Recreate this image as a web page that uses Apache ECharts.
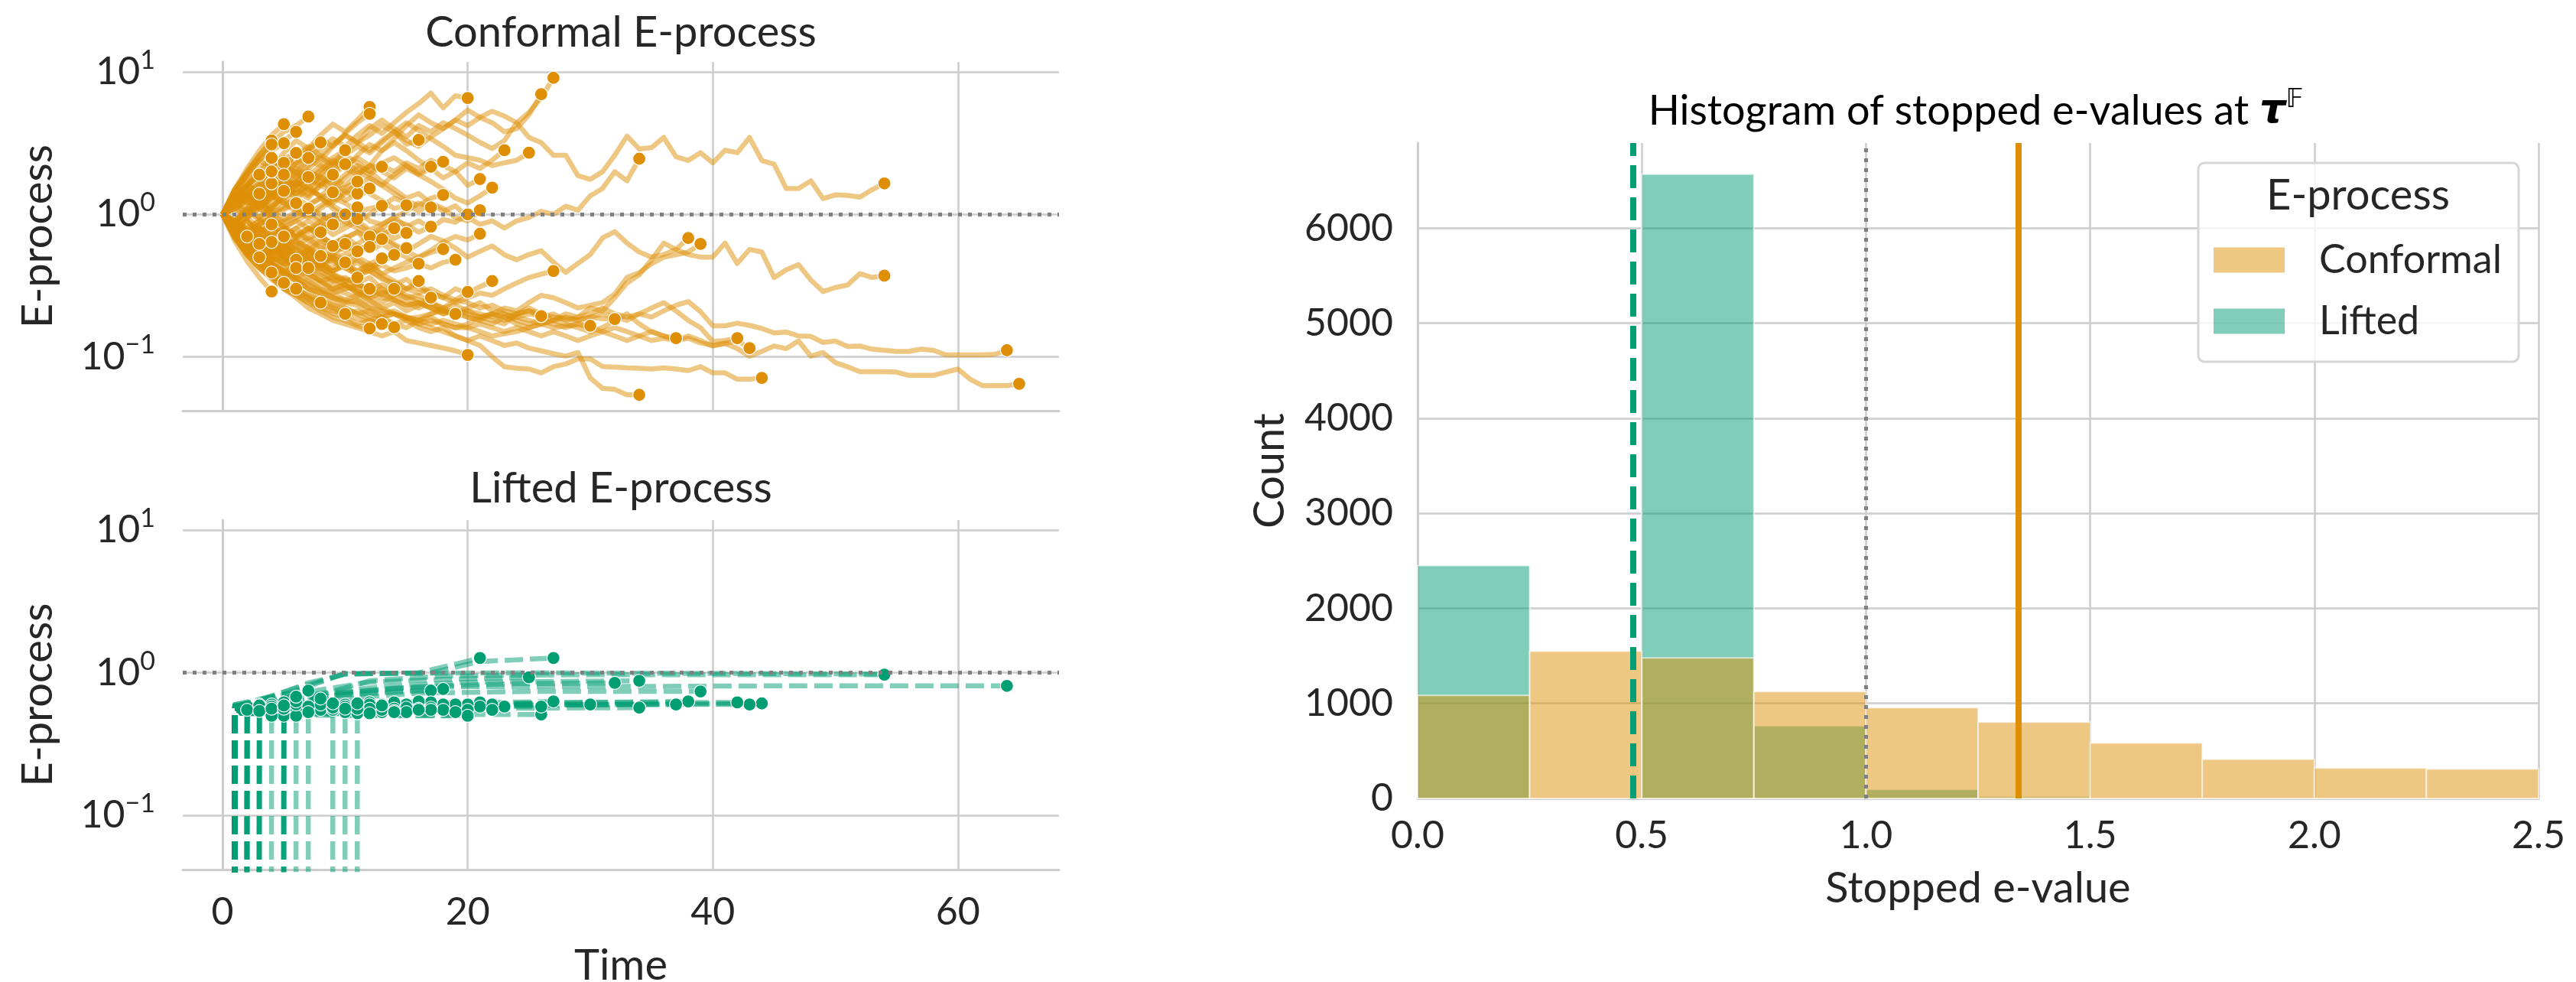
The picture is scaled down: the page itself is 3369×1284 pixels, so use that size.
<!DOCTYPE html>
<html>
<head>
<meta charset="utf-8">
<script src="https://cdn.jsdelivr.net/npm/echarts@6/dist/echarts.min.js"></script>
<style>
  html, body { margin: 0; padding: 0; background: #ffffff; }
  #chart { width: 3369px; height: 1284px; }
</style>
</head>
<body>
<div id="chart"></div>
<script>
// Conformal e-process trajectories: value at t = 0, 1, 2, ... until each run is stopped.
const conformalPaths = [
  [1,0.82,0.68,0.6,0.5,0.45,0.38,0.34,0.3,0.28,0.25,0.24,0.22,0.21,0.2,0.19,0.18,0.19,0.17,0.16,0.16,0.17,0.16,0.15,0.16,0.15,0.14,0.15,0.14,0.13,0.14,0.15,0.14,0.13,0.14,0.13,0.135,0.13,0.14,0.13,0.119,0.124,0.114,0.101,0.109,0.119,0.114,0.129,0.101,0.107,0.091,0.085,0.0785,0.0785,0.0785,0.078,0.074,0.074,0.074,0.078,0.082,0.0695,0.0627,0.0627,0.0627,0.0645],
  [1,0.75,0.62,0.55,0.48,0.5,0.44,0.4,0.37,0.33,0.3,0.31,0.28,0.26,0.25,0.23,0.24,0.22,0.2,0.21,0.2,0.19,0.2,0.18,0.19,0.18,0.17,0.18,0.19,0.18,0.19,0.2,0.19,0.18,0.2,0.19,0.21,0.23,0.244,0.207,0.165,0.165,0.172,0.166,0.158,0.147,0.149,0.14,0.139,0.126,0.129,0.118,0.119,0.113,0.111,0.109,0.109,0.113,0.111,0.103,0.103,0.103,0.103,0.104,0.111],
  [1,1.3,1.5,1.4,1.7,2.0,1.8,2.1,2.5,2.2,2.6,3.0,2.7,3.2,3.8,3.3,3.0,3.5,4.0,4.6,4.2,4.8,5.3,4.9,4.4,3.47,3.19,2.6,2.6,1.87,1.76,1.99,2.6,3.54,2.88,2.94,3.47,2.54,2.39,2.71,2.3,2.82,2.71,3.47,2.39,2.25,1.52,1.52,1.72,1.29,1.37,1.36,1.32,1.49,1.65],
  [1,0.8,0.9,0.75,0.85,0.7,0.8,0.65,0.72,0.6,0.68,0.75,0.62,0.7,0.6,0.55,0.62,0.7,0.65,0.58,0.5,0.55,0.6,0.52,0.48,0.522,0.555,0.461,0.391,0.452,0.522,0.682,0.756,0.628,0.544,0.501,0.522,0.567,0.522,0.501,0.501,0.628,0.452,0.567,0.544,0.36,0.408,0.443,0.346,0.287,0.306,0.319,0.383,0.36,0.371],
  [1,0.7,0.55,0.45,0.38,0.32,0.3,0.26,0.24,0.22,0.2,0.21,0.19,0.18,0.17,0.18,0.16,0.15,0.16,0.14,0.13,0.12,0.1,0.085,0.083,0.082,0.077,0.0853,0.089,0.0966,0.0966,0.0853,0.0845,0.0836,0.083,0.082,0.0836,0.082,0.08,0.0853,0.077,0.077,0.0695,0.0695,0.071],
  [1,0.78,0.6,0.52,0.46,0.4,0.42,0.36,0.33,0.3,0.28,0.26,0.24,0.22,0.2,0.19,0.17,0.16,0.15,0.14,0.13,0.14,0.13,0.12,0.125,0.115,0.11,0.105,0.101,0.107,0.071,0.06,0.059,0.054,0.054],
  [1,0.85,0.7,0.6,0.55,0.5,0.44,0.4,0.42,0.37,0.34,0.32,0.3,0.28,0.3,0.27,0.25,0.24,0.22,0.23,0.21,0.2,0.19,0.2,0.18,0.17,0.18,0.17,0.16,0.17,0.16,0.15,0.16,0.15,0.14,0.15,0.14,0.13,0.135,0.125,0.12,0.124,0.13,0.115],
  [1,0.9,0.75,0.8,0.7,0.62,0.65,0.58,0.5,0.46,0.42,0.38,0.4,0.35,0.33,0.3,0.28,0.3,0.27,0.25,0.24,0.22,0.23,0.21,0.2,0.21,0.19,0.2,0.18,0.19,0.2,0.22,0.2,0.19,0.2,0.22,0.24,0.21,0.18,0.16,0.128,0.13,0.135],
  [1,0.7,0.6,0.5,0.42,0.38,0.35,0.3,0.28,0.26,0.24,0.23,0.2,0.19,0.2,0.18,0.17,0.18,0.17,0.16,0.17,0.19,0.2,0.22,0.21,0.24,0.27,0.26,0.24,0.22,0.23,0.24,0.276,0.36,0.39,0.45,0.5,0.52,0.544,0.62],
  [1,0.75,0.62,0.55,0.47,0.42,0.45,0.38,0.34,0.36,0.32,0.29,0.27,0.3,0.26,0.24,0.22,0.24,0.21,0.2,0.19,0.18,0.2,0.19,0.17,0.16,0.17,0.18,0.2,0.19,0.22,0.21,0.26,0.33,0.376,0.48,0.628,0.567,0.682],
  [1,0.8,0.65,0.7,0.58,0.5,0.45,0.48,0.42,0.38,0.35,0.33,0.36,0.3,0.28,0.26,0.27,0.24,0.22,0.2,0.21,0.19,0.18,0.17,0.2,0.22,0.2,0.18,0.17,0.16,0.15,0.16,0.18,0.2,0.17,0.15,0.14,0.135],
  [1,1.2,1.4,1.25,1.5,1.8,1.6,2.0,1.8,1.6,1.9,2.2,2.0,1.7,1.5,1.3,1.4,1.2,1.05,1.15,0.95,0.85,0.9,0.8,0.9,0.95,1.05,1.0,1.14,1.07,1.35,1.52,1.99,1.72,2.46],
  [1,1.4,1.2,1.6,2.0,1.8,2.3,2.8,2.4,3.0,3.6,3.2,4.0,4.6,4.0,3.5,4.2,3.8,4.4,4.0,3.6,3.2,2.9,3.3,4.4,5.2,6.6,9.1],
  [1,0.8,1.0,1.2,1.1,1.4,1.7,1.5,1.9,2.3,2.1,2.6,3.1,2.8,3.4,4.2,5.0,4.4,4.0,4.6,5.4,4.8,4.4,3.8,4.0,5.0,6.98],
  [1,1.3,1.6,1.4,1.8,2.2,2.0,2.5,2.9,3.4,3.0,3.6,4.2,3.7,4.4,5.2,6.0,7.1,5.6,6.8,6.56],
  [1,0.85,1.1,1.3,1.2,1.5,1.8,2.2,2.6,2.3,2.8,3.2,3.6,4.2,3.8,4.4,3.9,3.4,3.0,2.6,2.5,2.4,2.2,2.3,2.4,2.71],
  [1,1.2,1.05,1.3,1.1,1.35,1.6,1.4,1.7,1.5,1.8,2.1,1.9,2.2,2.0,2.3,2.1,2.4,2.2,2.0,2.3,2.1,2.4,2.82],
  [1,1.1,0.95,1.2,1.35,1.2,1.45,1.3,1.6,1.8,1.6,1.9,2.2,2.0,1.8,2.1,1.9,1.7,1.5,1.3,1.2,1.35,1.54],
  [1,0.9,1.1,0.95,1.15,1.3,1.5,1.35,1.6,1.9,2.2,2.5,2.2,2.8,3.2,2.8,2.4,2.1,1.8,2.0,1.6,1.77],
  [1,0.8,0.9,0.75,0.85,0.7,0.8,0.9,0.8,0.95,1.05,0.9,1.0,1.15,1.3,1.2,1.05,1.2,1.1,0.95,0.9,1.07],
  [1,0.75,0.62,0.68,0.55,0.6,0.5,0.56,0.48,0.52,0.6,0.55,0.62,0.7,0.62,0.55,0.5,0.56,0.64,0.7,0.66,0.73],
  [1,0.82,0.7,0.75,0.62,0.55,0.6,0.52,0.46,0.5,0.44,0.4,0.45,0.38,0.34,0.3,0.32,0.28,0.26,0.3,0.28,0.31,0.34],
  [1,0.85,0.95,0.8,0.7,0.78,0.68,0.75,0.85,0.72,0.8,0.9,0.78,0.85,0.95,0.82,0.9,0.8,0.92,0.88,1.0],
  [1,0.7,0.58,0.5,0.45,0.38,0.34,0.3,0.26,0.24,0.22,0.2,0.18,0.19,0.17,0.16,0.18,0.2,0.22,0.25,0.285],
  [1,0.68,0.52,0.44,0.36,0.3,0.26,0.22,0.2,0.18,0.17,0.16,0.15,0.14,0.15,0.13,0.125,0.12,0.115,0.11,0.103],
  [1,0.8,0.66,0.56,0.48,0.5,0.42,0.38,0.34,0.3,0.32,0.29,0.26,0.28,0.25,0.23,0.24,0.22,0.21,0.2,0.22,0.24,0.21,0.2,0.19,0.2,0.193],
  [1,0.9,0.78,0.68,0.6,0.66,0.56,0.5,0.54,0.48,0.42,0.46,0.4,0.36,0.32,0.35,0.3,0.28,0.26,0.24,0.26,0.28,0.27,0.3,0.33,0.36,0.38,0.4],
  [1,0.75,0.62,0.52,0.45,0.4,0.36,0.32,0.29,0.26,0.24,0.25,0.22,0.2,0.21,0.19,0.18,0.17,0.18,0.17,0.16,0.15,0.14,0.145,0.15,0.16,0.17,0.16,0.165,0.17,0.165],
  [1,0.8,0.7,0.6,0.52,0.46,0.5,0.44,0.38,0.34,0.36,0.32,0.3,0.27,0.29,0.26,0.24,0.22,0.2,0.21,0.19,0.18,0.17,0.19,0.2,0.21,0.2,0.19,0.185,0.18,0.19,0.185,0.184],
  [1,0.8,0.9,0.75,0.65,0.7,0.6,0.68,0.58,0.62,0.7,0.6,0.55,0.62,0.55,0.5,0.45,0.42,0.46,0.48],
  [1,1.2,1.4,1.3,1.6,1.4,1.7,2.0,1.8,2.1,2.4,2.0,1.8,1.6,1.9,2.2,1.9,2.1,2.34],
  [1,0.9,1.05,1.2,1.0,1.15,1.3,1.5,1.35,1.2,1.4,1.6,1.8,1.6,1.4,1.25,1.15,1.3,1.37],
  [1,0.8,0.65,0.7,0.6,0.52,0.58,0.5,0.44,0.5,0.45,0.4,0.44,0.38,0.42,0.46,0.5,0.54,0.57],
  [1,1.15,1.3,1.5,1.35,1.6,1.9,1.7,2.0,2.3,2.6,2.3,2.0,2.3,2.5,2.2,1.95,2.16],
  [1,1.1,0.95,1.1,1.3,1.5,1.3,1.15,1.3,1.1,0.95,1.05,0.9,0.85,0.95,1.05,1.2,1.12],
  [1,0.85,0.75,0.85,0.95,0.8,0.7,0.78,0.9,1.0,0.88,0.8,0.72,0.8,0.9,0.85,0.75,0.82],
  [1,0.75,0.6,0.52,0.45,0.4,0.36,0.4,0.34,0.3,0.32,0.28,0.25,0.22,0.24,0.21,0.23,0.26],
  [1,1.3,1.6,2.0,1.8,2.2,2.6,3.0,2.6,3.1,3.6,3.2,2.8,3.3,3.8,3.1,3.33],
  [1,0.72,0.6,0.66,0.55,0.48,0.42,0.46,0.4,0.35,0.32,0.28,0.26,0.24,0.27,0.3,0.34],
  [1,1.2,1.0,1.15,1.35,1.2,1.05,0.95,1.1,1.25,1.45,1.6,1.4,1.25,1.1,1.16],
  [1,0.85,0.72,0.8,0.68,0.62,0.7,0.8,0.7,0.62,0.56,0.62,0.7,0.78,0.68,0.74],
  [1,0.78,0.64,0.56,0.62,0.52,0.46,0.5,0.44,0.4,0.44,0.48,0.42,0.46,0.52,0.58],
  [1,0.9,1.05,0.92,0.82,0.9,1.0,1.12,1.0,0.88,0.95,0.85,0.76,0.72,0.8],
  [1,0.8,0.68,0.58,0.5,0.55,0.48,0.42,0.46,0.4,0.44,0.38,0.42,0.47,0.52],
  [1,0.7,0.55,0.45,0.38,0.32,0.28,0.25,0.22,0.2,0.19,0.17,0.18,0.165,0.161],
  [1,1.15,1.35,1.2,1.45,1.7,2.0,1.75,2.05,2.4,2.1,1.9,2.2,2.16],
  [1,0.82,0.7,0.78,0.66,0.58,0.64,0.56,0.5,0.54,0.6,0.55,0.62,0.67],
  [1,0.75,0.62,0.54,0.6,0.52,0.46,0.42,0.46,0.4,0.44,0.5,0.45,0.49],
  [1,0.72,0.56,0.46,0.4,0.34,0.3,0.27,0.24,0.22,0.2,0.185,0.175,0.17],
  [1,1.5,1.9,2.4,2.1,2.7,3.3,2.9,3.6,4.3,3.8,4.6,5.68],
  [1,1.35,1.2,1.6,2.0,2.5,2.2,2.8,3.4,3.0,3.7,4.4,5.08],
  [1,1.15,1.3,1.15,1.35,1.55,1.4,1.6,1.85,1.65,1.45,1.3,1.52],
  [1,0.88,0.76,0.85,0.95,0.82,0.72,0.8,0.7,0.62,0.68,0.75,0.7],
  [1,0.8,0.68,0.6,0.52,0.58,0.5,0.55,0.6,0.52,0.48,0.54,0.59],
  [1,0.68,0.52,0.42,0.36,0.3,0.27,0.24,0.21,0.19,0.18,0.165,0.158],
  [1,1.1,1.25,1.1,1.3,1.5,1.7,1.5,1.35,1.55,1.25,1.4],
  [1,0.9,1.05,1.2,1.05,0.92,1.05,1.18,1.3,1.15,1.02,1.12],
  [1,0.85,0.95,1.1,0.95,0.82,0.9,1.0,0.88,0.8,0.86,0.93],
  [1,0.78,0.65,0.55,0.6,0.5,0.44,0.48,0.42,0.38,0.34,0.36],
  [1,1.3,1.6,1.45,1.8,2.2,1.95,2.4,2.2,2.5,2.82],
  [1,1.2,1.4,1.65,1.5,1.8,2.1,1.85,2.2,2.0,2.25],
  [1,0.8,0.66,0.58,0.64,0.55,0.48,0.52,0.45,0.42,0.46],
  [1,1.15,1.3,1.15,1.35,1.55,1.4,1.6,1.3,1.43],
  [1,0.8,0.68,0.6,0.66,0.56,0.5,0.55,0.51],
  [1,1.5,2.0,2.6,3.2,3.8,4.2,4.86],
  [1,1.3,1.6,1.9,1.7,2.0,2.3,2.49],
  [1,1.25,1.45,1.3,1.55,1.75,1.6,1.83],
  [1,0.78,0.65,0.56,0.5,0.45,0.48],
  [1,1.5,2.1,2.8,3.6,4.3],
  [1,1.4,1.9,2.4,2.8,3.16],
  [1,1.3,1.6,1.9,2.1,2.3],
  [1,1.2,1.35,1.25,1.4,1.46],
  [1,1.5,2.0,2.6,3.3],
  [1,1.45,1.95,2.5,3.1],
  [1,1.35,1.75,2.1,2.49],
  [1,1.2,1.4,1.5,1.65],
  [1,0.85,0.75,0.7,0.64],
  [1,0.72,0.56,0.46,0.39],
  [1,0.65,0.47,0.36,0.287],
  [1,0.75,0.6,0.5],
  [1,1.3,1.6,1.9],
  [1,0.82,0.7],
  [1,0.7,0.55,0.45,0.38,0.33],
  [1,0.75,0.6,0.5,0.44,0.38,0.42],
  [1,0.9,1.05,1.2,1.05,1.1,1.2],
  [1,0.85,0.75,0.66,0.72,0.8,0.7,0.68,0.75],
  [1,0.8,0.7,0.62,0.55,0.6,0.52,0.56,0.65,0.6],
  [1,0.9,0.8,0.9,1.0,0.88,0.95,1.05,0.92,0.98,1.0],
  [1,0.8,0.7,0.6,0.54,0.6,0.66,0.58,0.52,0.5,0.52,0.55],
  [1,0.72,0.56,0.5,0.44,0.4,0.36,0.33,0.3,0.28,0.3,0.32,0.3],
  [1,1.15,1.3,1.4],
  [1,0.85,0.72,0.62],
  [1,1.25,1.5,1.75,2.0],
  [1,0.9,0.8,0.9,0.85],
  [1,0.88,0.78,0.7,0.75,0.7],
  [1,1.2,1.45,1.6,1.75,1.9],
  [1,1.3,1.6,1.9,2.2,2.45,2.7],
  [1,0.72,0.55,0.45,0.38,0.33,0.3],
  [1,1.1,1.25,1.1,0.98,1.08,1.2,1.1],
  [1,0.8,0.66,0.56,0.5,0.45,0.46,0.42],
  [1,1.3,1.7,2.0,2.4,2.2,2.6,2.9,3.2],
  [1,0.7,0.52,0.42,0.36,0.31,0.28,0.26,0.24],
  [1,0.86,0.76,0.84,0.74,0.8,0.9,0.8,0.78,0.85],
  [1,1.2,1.1,1.3,1.5,1.35,1.6,1.8,1.65,1.9],
  [1,0.82,0.7,0.62,0.56,0.62,0.55,0.6,0.66,0.58,0.62],
  [1,0.7,0.52,0.42,0.35,0.3,0.27,0.24,0.22,0.21,0.2],
  [1,1.2,1.4,1.25,1.45,1.65,1.5,1.75,1.6,1.45,1.55,1.7],
  [1,0.9,1.05,0.95,1.1,1.25,1.1,1.0,1.15,1.3,1.2,1.05,1.1,1.15],
  [1,0.75,0.6,0.5,0.44,0.38,0.34,0.3,0.28,0.26,0.25,0.27,0.29,0.32,0.3],
  [1,0.8,0.68,0.6,0.55,0.6,0.52,0.48,0.44,0.48,0.42,0.38,0.4,0.44,0.4,0.42,0.45],
  [1,0.72,0.56,0.46,0.4,0.34,0.3,0.27,0.25,0.23,0.22,0.2,0.21,0.19,0.2,0.185,0.19,0.2,0.21,0.2],
  [1,1.4,1.9,2.4,2.9,3.3,3.8]
];

// Lifted e-process for the same runs, as [t, value] knots; 0 means the process has not lifted yet.
const liftedPaths = [
  [[65,0]],
  [[0,0],[1,0.56],[3,0.6],[6,0.66],[9,0.72],[14,0.78],[20,0.8],[30,0.8],[45,0.81],[64,0.81]],
  [[0,0],[1,0.58],[3,0.64],[6,0.75],[10,0.99],[25,1.0],[40,0.99],[54,0.98]],
  [[0,0],[1,0.55],[4,0.6],[8,0.7],[12,0.88],[18,0.95],[30,0.97],[54,0.97]],
  [[0,0],[1,0.54],[6,0.56],[12,0.58],[20,0.6],[30,0.6],[44,0.61]],
  [[0,0],[1,0.53],[8,0.55],[16,0.56],[34,0.57]],
  [[0,0],[1,0.55],[10,0.58],[25,0.6],[43,0.6]],
  [[0,0],[1,0.55],[8,0.58],[18,0.6],[30,0.62],[42,0.62]],
  [[0,0],[1,0.56],[5,0.6],[10,0.66],[16,0.72],[25,0.74],[39,0.74]],
  [[0,0],[1,0.55],[10,0.58],[20,0.6],[28,0.62],[38,0.63]],
  [[0,0],[1,0.54],[12,0.57],[24,0.59],[37,0.6]],
  [[0,0],[1,0.57],[4,0.63],[8,0.72],[13,0.8],[20,0.86],[34,0.88]],
  [[0,0],[1,0.58],[3,0.65],[6,0.78],[10,0.98],[17,1.0],[21,1.2],[27,1.27]],
  [[0,0],[1,0.52],[10,0.5],[18,0.51],[26,0.51]],
  [[0,0],[1,0.53],[8,0.52],[14,0.5],[20,0.5]],
  [[0,0],[1,0.57],[4,0.64],[8,0.76],[12,0.86],[18,0.9],[25,0.93]],
  [[0,0],[1,0.55],[8,0.56],[16,0.58],[23,0.58]],
  [[0,0],[1,0.55],[8,0.58],[15,0.6],[22,0.6]],
  [[0,0],[1,0.58],[4,0.68],[7,0.85],[10,0.98],[16,1.0],[19,1.15],[21,1.27]],
  [[0,0],[1,0.56],[7,0.59],[14,0.61],[21,0.62]],
  [[0,0],[1,0.54],[10,0.57],[21,0.58]],
  [[0,0],[1,0.53],[12,0.54],[22,0.55]],
  [[0,0],[1,0.55],[9,0.58],[20,0.6]],
  [[0,0],[1,0.53],[10,0.55],[20,0.55]],
  [[0,0],[1,0.52],[10,0.51],[20,0.5]],
  [[0,0],[1,0.55],[12,0.57],[26,0.58]],
  [[0,0],[1,0.56],[9,0.59],[18,0.61],[27,0.63]],
  [[0,0],[1,0.55],[14,0.58],[30,0.6]],
  [[0,0],[1,0.56],[5,0.62],[10,0.72],[16,0.8],[24,0.84],[32,0.85]],
  [[0,0],[1,0.55],[10,0.58],[19,0.6]],
  [[0,0],[1,0.57],[4,0.62],[8,0.68],[13,0.74],[18,0.77]],
  [[0,0],[1,0.56],[9,0.58],[18,0.6]],
  [[0,0],[1,0.53],[9,0.54],[18,0.55]],
  [[0,0],[1,0.57],[5,0.63],[10,0.7],[17,0.75]],
  [[0,0],[1,0.56],[8,0.6],[17,0.62]],
  [[0,0],[1,0.55],[9,0.56],[17,0.57]],
  [[0,0],[1,0.53],[9,0.54],[17,0.55]],
  [[0,0],[1,0.57],[6,0.6],[16,0.63]],
  [[0,0],[1,0.54],[8,0.55],[16,0.56]],
  [[0,0],[1,0.56],[8,0.58],[15,0.6]],
  [[0,0],[1,0.55],[8,0.56],[15,0.57]],
  [[0,0],[1,0.52],[15,0.53]],
  [[0,0],[1,0.56],[7,0.6],[14,0.62]],
  [[0,0],[1,0.54],[14,0.56]],
  [[0,0],[1,0.52],[14,0.54]],
  [[0,0],[1,0.57],[7,0.59],[13,0.6]],
  [[0,0],[1,0.55],[13,0.57]],
  [[1,0],[2,0.52],[13,0.53]],
  [[2,0],[3,0.53],[13,0.55]],
  [[0,0],[1,0.57],[6,0.6],[12,0.62]],
  [[0,0],[1,0.56],[12,0.58]],
  [[0,0],[1,0.54],[12,0.55]],
  [[6,0],[7,0.52],[12,0.53]],
  [[9,0],[10,0.58],[12,0.6]],
  [[10,0],[11,0.55],[12,0.56]],
  [[2,0],[3,0.57],[11,0.6]],
  [[3,0],[4,0.55],[11,0.57]],
  [[4,0],[5,0.53],[11,0.54]],
  [[5,0],[6,0.51],[11,0.52]],
  [[2,0],[3,0.57],[10,0.6]],
  [[1,0],[2,0.55],[10,0.57]],
  [[4,0],[5,0.52],[10,0.53]],
  [[1,0],[2,0.56],[9,0.58]],
  [[1,0],[2,0.54],[8,0.55]],
  [[0,0],[1,0.6],[4,0.68],[7,0.75]],
  [[0,0],[1,0.56],[7,0.58]],
  [[0,0],[1,0.52],[7,0.53]],
  [[0,0],[1,0.54],[6,0.55]],
  [[0,0],[1,0.58],[5,0.62]],
  [[0,0],[1,0.56],[5,0.58]],
  [[0,0],[1,0.54],[5,0.55]],
  [[4,0],[5,0.5]],
  [[0,0],[1,0.57],[4,0.6]],
  [[0,0],[1,0.56],[4,0.57]],
  [[1,0],[2,0.53],[4,0.54]],
  [[2,0],[3,0.5],[4,0.5]],
  [[4,0]],
  [[4,0]],
  [[4,0]],
  [[0,0],[1,0.55],[3,0.56]],
  [[0,0],[1,0.58],[3,0.6]],
  [[0,0],[1,0.55],[2,0.55]],
  [[5,0]],
  [[4,0],[5,0.5],[6,0.5]],
  [[0,0],[1,0.57],[6,0.6]],
  [[0,0],[1,0.56],[8,0.6]],
  [[8,0],[9,0.55]],
  [[0,0],[1,0.56],[10,0.58]],
  [[0,0],[1,0.55],[11,0.56]],
  [[1,0],[2,0.52],[12,0.52]],
  [[0,0],[1,0.57],[3,0.59]],
  [[0,0],[1,0.53],[3,0.54]],
  [[1,0],[2,0.56],[4,0.58]],
  [[0,0],[1,0.55],[4,0.56]],
  [[0,0],[1,0.54],[5,0.56]],
  [[2,0],[3,0.57],[5,0.59]],
  [[0,0],[1,0.58],[6,0.63]],
  [[6,0]],
  [[0,0],[1,0.56],[7,0.58]],
  [[4,0],[5,0.52],[7,0.53]],
  [[0,0],[1,0.59],[8,0.66]],
  [[8,0]],
  [[0,0],[1,0.55],[9,0.57]],
  [[0,0],[1,0.57],[9,0.61]],
  [[0,0],[1,0.54],[10,0.56]],
  [[10,0]],
  [[0,0],[1,0.57],[11,0.61]],
  [[0,0],[1,0.56],[13,0.59]],
  [[1,0],[2,0.52],[14,0.53]],
  [[0,0],[1,0.53],[16,0.55]],
  [[0,0],[1,0.52],[19,0.53]],
  [[0,0],[1,0.6],[6,0.68]]
];

// Histogram of stopped e-values (bin width 0.25).
const binEdges = [0, 0.25, 0.5, 0.75, 1.0, 1.25, 1.5, 1.75, 2.0, 2.25, 2.5];
const conformalCounts = [1085, 1549, 1479, 1125, 956, 802, 583, 413, 319, 309];
const liftedCounts = [2450, 0, 6568, 762, 95, 18, 0, 0, 0, 0];
const meanLifted = 0.477;
const meanConformal = 1.345;
const nullLevel = 1;

const FONT = 'Lato';
const TEXT = '#262626';
const GRIDC = '#cccccc';
const ORANGE = '#DE8F05';
const GREEN = '#029E73';
const ORANGE_FILL = 'rgba(222,143,5,0.5)';
const GREEN_FILL = 'rgba(2,158,115,0.5)';

// Shared axis limits with 5% margins (log-space for the e-process axis).
const positives = conformalPaths.flat().filter(v => v > 0);
const lo = Math.log10(Math.min(...positives));
const hi = Math.log10(Math.max(...positives));
const lpad = (hi - lo) * 0.05;
const yMin = Math.pow(10, lo - lpad);
const yMax = Math.pow(10, hi + lpad);
const tMax = Math.max(...conformalPaths.map(p => p.length - 1));
const xMin = -0.05 * tMax;
const xMax = 1.05 * tMax;
const countMax = 1.05 * Math.max(...liftedCounts, ...conformalCounts);

function logLabel(v) {
  const e = Math.log10(v);
  const r = Math.round(e);
  if (Math.abs(e - r) > 1e-6) return '';
  return '{b|10}{s|' + (r < 0 ? '\u2212' + (-r) : String(r)) + '}';
}
const logRich = {
  b: { fontFamily: FONT, fontSize: 50, color: TEXT, lineHeight: 64 },
  s: { fontFamily: FONT, fontSize: 34, color: TEXT, verticalAlign: 'top' }
};

function timeAxis(gridIndex, showLabels) {
  return {
    type: 'value', gridIndex, min: xMin, max: xMax, splitNumber: 4,
    axisLine: { show: true, onZero: false, lineStyle: { color: GRIDC, width: 3 } },
    axisTick: { show: false },
    splitLine: { show: true, showMinLine: false, showMaxLine: false, lineStyle: { color: GRIDC, width: 2.5 } },
    axisLabel: {
      show: showLabels, margin: 31, fontFamily: FONT, fontSize: 50, color: TEXT,
      formatter: v => (Math.abs(v % 20) < 1e-9 ? String(Math.round(v) + 0) : '')
    },
    name: showLabels ? 'Time' : '', nameLocation: 'middle', nameGap: 98,
    nameTextStyle: { fontFamily: FONT, fontSize: 56, color: TEXT }
  };
}
function eAxis(gridIndex) {
  return {
    type: 'log', logBase: 10, gridIndex, min: yMin, max: yMax,
    axisLine: { show: true, lineStyle: { color: GRIDC, width: 3 } },
    axisTick: { show: false },
    splitLine: { show: true, showMinLine: false, showMaxLine: false, lineStyle: { color: GRIDC, width: 2.5 } },
    axisLabel: { formatter: logLabel, margin: 36, rich: logRich },
    name: 'E-process', nameLocation: 'middle', nameGap: 161,
    nameTextStyle: { fontFamily: FONT, fontSize: 56, color: TEXT }
  };
}

const series = [];

// Conformal trajectories (top panel)
conformalPaths.forEach(p => {
  series.push({
    type: 'line', xAxisIndex: 0, yAxisIndex: 0, z: 2, silent: true,
    symbol: 'none', showSymbol: false,
    data: p.map((v, t) => [t, v]),
    lineStyle: { color: ORANGE, width: 6.5, opacity: 0.5, join: 'round' }
  });
});

// Lifted trajectories (bottom panel); zeros are clipped far below the axis like a log plot does
const clipZero = v => (v > 0 ? v : 1e-100);
liftedPaths.forEach(p => {
  if (p.length < 2) return;
  series.push({
    type: 'line', xAxisIndex: 1, yAxisIndex: 1, z: 2, silent: true,
    symbol: 'none', showSymbol: false,
    data: p.map(([t, v]) => [t, clipZero(v)]),
    lineStyle: { color: GREEN, width: 6.5, opacity: 0.5, type: [24, 9], join: 'round' }
  });
});

// Reference level at 1 in both trajectory panels
[0, 1].forEach(i => {
  series.push({
    type: 'line', xAxisIndex: i, yAxisIndex: i, z: 3, silent: true, data: [],
    markLine: {
      silent: true, symbol: 'none', label: { show: false }, animation: false,
      lineStyle: { color: '#808080', width: 5, type: [5, 8] },
      data: [{ yAxis: nullLevel }]
    }
  });
});

// Stopped values
series.push({
  type: 'scatter', xAxisIndex: 0, yAxisIndex: 0, z: 4, silent: true,
  symbolSize: 17,
  itemStyle: { color: ORANGE, borderColor: '#ffffff', borderWidth: 1.2, opacity: 1 },
  data: conformalPaths.map(p => [p.length - 1, p[p.length - 1]])
});
series.push({
  type: 'scatter', xAxisIndex: 1, yAxisIndex: 1, z: 4, silent: true,
  symbolSize: 17,
  itemStyle: { color: GREEN, borderColor: '#ffffff', borderWidth: 1.2, opacity: 1 },
  data: liftedPaths.map(p => p[p.length - 1]).filter(d => d[1] > 0)
});

// Histogram bars
function histSeries(name, counts, fill, z, extra) {
  return Object.assign({
    type: 'custom', name, xAxisIndex: 2, yAxisIndex: 2, z, silent: true,
    itemStyle: { color: fill },
    encode: { x: [0, 1], y: 2 },
    data: counts.map((c, i) => [binEdges[i], binEdges[i + 1], c]),
    renderItem(params, api) {
      const a = api.coord([api.value(0), 0]);
      const b = api.coord([api.value(1), api.value(2)]);
      return {
        type: 'rect',
        shape: { x: a[0], y: b[1], width: b[0] - a[0], height: a[1] - b[1] },
        style: { fill, stroke: 'rgba(255,255,255,0.6)', lineWidth: 2 }
      };
    }
  }, extra || {});
}
series.push(histSeries('Lifted', liftedCounts, GREEN_FILL, 2));
series.push(histSeries('Conformal', conformalCounts, ORANGE_FILL, 3, {
  markLine: {
    silent: true, symbol: 'none', label: { show: false }, animation: false,
    data: [
      { xAxis: nullLevel, lineStyle: { color: '#808080', width: 5, type: [5, 8] } },
      { xAxis: meanLifted, lineStyle: { color: GREEN, width: 8, type: [30, 12] } },
      { xAxis: meanConformal, lineStyle: { color: ORANGE, width: 8, type: 'solid' } }
    ]
  }
}));

const option = {
  animation: false,
  backgroundColor: '#ffffff',
  textStyle: { fontFamily: FONT, color: TEXT },
  grid: [
    { left: 239, top: 81, width: 1146, height: 456, outerBoundsMode: 'none' },
    { left: 239, top: 680, width: 1146, height: 457, outerBoundsMode: 'none' },
    { left: 1854, top: 187, width: 1466, height: 857, outerBoundsMode: 'none' }
  ],
  xAxis: [
    timeAxis(0, false),
    timeAxis(1, true),
    {
      type: 'value', gridIndex: 2, min: 0, max: 2.5, interval: 0.5,
      axisLine: { show: true, onZero: false, lineStyle: { color: GRIDC, width: 3 } },
      axisTick: { show: false },
      splitLine: { show: true, lineStyle: { color: GRIDC, width: 2.5 } },
      axisLabel: { margin: 24, fontFamily: FONT, fontSize: 50, color: TEXT, formatter: v => v.toFixed(1) },
      name: 'Stopped e-value', nameLocation: 'middle', nameGap: 90,
      nameTextStyle: { fontFamily: FONT, fontSize: 56, color: TEXT }
    }
  ],
  yAxis: [
    eAxis(0),
    eAxis(1),
    {
      type: 'value', gridIndex: 2, min: 0, max: countMax, interval: 1000,
      axisLine: { show: true, lineStyle: { color: GRIDC, width: 3 } },
      axisTick: { show: false },
      splitLine: { show: true, showMaxLine: false, lineStyle: { color: GRIDC, width: 2.5 } },
      axisLabel: {
        margin: 32, fontFamily: FONT, fontSize: 50, color: TEXT,
        formatter: v => (Math.abs(v % 1000) < 1e-9 ? String(Math.round(v)) : '')
      },
      name: 'Count', nameLocation: 'middle', nameGap: 165,
      nameTextStyle: { fontFamily: FONT, fontSize: 56, color: TEXT }
    }
  ],
  legend: {
    data: ['Conformal', 'Lifted'],
    orient: 'vertical', left: 2895, top: 310, padding: 0, z: 60,
    itemWidth: 93, itemHeight: 33, itemGap: 20, icon: 'rect',
    selectedMode: false,
    textStyle: { fontFamily: FONT, fontSize: 52, color: TEXT, lineHeight: 60, padding: [0, 0, 0, 40] }
  },
  graphic: [
    { type: 'text', x: 812, y: 43, z: 70, silent: true,
      style: { text: 'Conformal E-process', font: '56px Lato', fill: TEXT, align: 'center', verticalAlign: 'middle' } },
    { type: 'text', x: 812, y: 639, z: 70, silent: true,
      style: { text: 'Lifted E-process', font: '56px Lato', fill: TEXT, align: 'center', verticalAlign: 'middle' } },
    { type: 'text', x: 2584, y: 146, z: 70, silent: true,
      style: {
        text: '{t|Histogram of stopped e-values at }{tau|\u03C4}{sup|\uD835\uDD3D}',
        align: 'center', verticalAlign: 'middle',
        rich: {
          t: { fontFamily: FONT, fontSize: 54, color: TEXT, lineHeight: 64 },
          tau: { fontFamily: 'DejaVu Sans', fontSize: 54, fontWeight: 'bold', fontStyle: 'italic', color: TEXT, lineHeight: 64 },
          sup: { fontFamily: 'DejaVu Sans', fontSize: 34, color: TEXT, verticalAlign: 'top' }
        }
      } },
    { type: 'rect', z: 50, silent: true,
      shape: { x: 2875, y: 213, width: 419, height: 260, r: 8 },
      style: { fill: 'rgba(255,255,255,0.8)', stroke: '#d6d6d6', lineWidth: 3 } },
    { type: 'text', x: 3084, y: 256, z: 70, silent: true,
      style: { text: 'E-process', font: '56px Lato', fill: TEXT, align: 'center', verticalAlign: 'middle' } }
  ],
  series
};

const chart = echarts.init(document.getElementById('chart'), null, { renderer: 'canvas', width: 3369, height: 1284 });
chart.setOption(option);
</script>
</body>
</html>
